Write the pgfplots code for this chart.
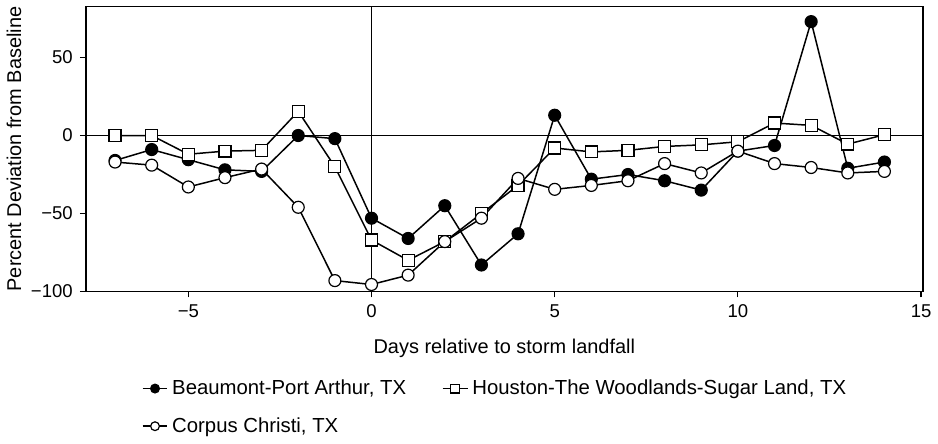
\documentclass[border=0pt]{standalone}
\usepackage{pgfplots}
\pgfplotsset{compat=1.18}
\usepackage{fontspec}
\setmainfont{Liberation Sans}

\begin{document}
\begin{tikzpicture}[font=\fontsize{10}{12}\selectfont]
\begin{axis}[
  scale only axis,
  width=420pt, height=143pt,
  xmin=-7.8, xmax=15.05,
  ymin=-100, ymax=82.7,
  xtick={-5,0,5,10,15},
  xticklabels={−5,0,5,10,15},
  ytick={-100,-50,0,50},
  yticklabels={−100,−50,0,50},
  tick label style={font=\fontsize{9.3}{11}\selectfont},
  tick align=outside,
  tick pos=left,
  major tick length=3pt,
  tick style={black, line width=0.6pt},
  axis line style={line width=0.8pt},
  xlabel={Days relative to storm landfall},
  ylabel={Percent Deviation from Baseline},
  xlabel style={yshift=-4pt},
  ylabel style={yshift=-2pt},
  legend columns=2,
  legend style={draw=none, at={(0.49,-0.28)}, anchor=north,
    font=\fontsize{10.2}{12}\selectfont,
    /tikz/every even column/.append style={column sep=16pt},
    row sep=6pt},
  legend cell align=left,
  legend image code/.code={
    \draw[#1, mark=none] (0cm,0cm) -- (0.44cm,0cm);
    \draw[#1, mark size=2.2pt] plot coordinates {(0.22cm,0cm)};
  },
  every axis plot/.append style={line width=0.75pt, black},
]
\draw[line width=0.5pt] (axis cs:-7.8,0) -- (axis cs:15.05,0);
\draw[line width=0.5pt] (axis cs:0,-100) -- (axis cs:0,82.7);

% Beaumont-Port Arthur
\addplot[mark=*, mark size=3pt, mark options={fill=black, line width=0.6pt}] coordinates {
  (-7,-16) (-6,-9) (-5,-15.5) (-4,-22) (-3,-23) (-2,0) (-1,-2)
  (0,-53) (1,-66) (2,-45) (3,-83) (4,-63) (5,13) (6,-28) (7,-25)
  (8,-29) (9,-35) (10,-10) (11,-6.4) (12,73) (13,-21) (14,-17)
};
\addlegendentry{Beaumont-Port Arthur, TX}

% Houston-The Woodlands-Sugar Land
\addplot[mark=square*, mark size=3pt, mark options={fill=white, line width=0.6pt}] coordinates {
  (-7,0) (-6,0) (-5,-12) (-4,-10) (-3,-9.5) (-2,15.5) (-1,-20)
  (0,-67) (1,-80) (2,-68) (3,-50) (4,-32) (5,-8) (6,-10.5) (7,-9.5)
  (8,-7) (9,-6) (10,-4) (11,8) (12,6.5) (13,-5.5) (14,0.5)
};
\addlegendentry{Houston-The Woodlands-Sugar Land, TX}

% Corpus Christi
\addplot[mark=*, mark size=3pt, mark options={fill=white, line width=0.6pt}] coordinates {
  (-7,-17) (-6,-19) (-5,-33) (-4,-27) (-3,-21.5) (-2,-46) (-1,-93)
  (0,-95.5) (1,-89.5) (2,-68) (3,-53) (4,-27.5) (5,-34.5) (6,-32) (7,-29)
  (8,-18) (9,-24) (10,-10) (11,-18) (12,-20.5) (13,-24) (14,-23)
};
\addlegendentry{Corpus Christi, TX}
\end{axis}
\end{tikzpicture}
\end{document}
